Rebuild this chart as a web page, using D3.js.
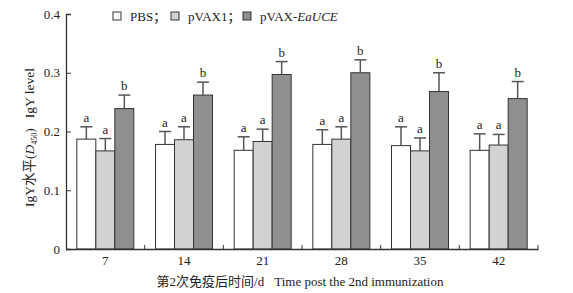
<!DOCTYPE html>
<html>
<head>
<meta charset="utf-8">
<script src="https://cdn.jsdelivr.net/npm/d3@7"></script>
<style>
  body { margin: 0; background: #fff; }
  text { font-family: "Liberation Serif", "Noto Sans CJK SC", serif; fill: #222; }
</style>
</head>
<body>
<div id="wrapper"></div>
<script>
// data
const days = ["7", "14", "21", "28", "35", "42"]
const groups = ["PBS", "pVAX1", "pVAX-EaUCE"]
const pbs = [0.187, 0.178, 0.168, 0.178, 0.176, 0.168]
const pbsErr = [0.021, 0.022, 0.023, 0.025, 0.032, 0.028]
const pvax1 = [0.167, 0.186, 0.183, 0.187, 0.167, 0.177]
const pvax1Err = [0.021, 0.022, 0.021, 0.021, 0.022, 0.018]
const euce = [0.239, 0.262, 0.297, 0.300, 0.268, 0.256]
const euceErr = [0.023, 0.022, 0.022, 0.022, 0.032, 0.029]
const letters = [["a", "a", "b"], ["a", "a", "b"], ["a", "a", "b"], ["a", "a", "b"], ["a", "a", "b"], ["a", "a", "b"]]
const yTicks = [0, 0.1, 0.2, 0.3, 0.4]

const colors = ["#ffffff", "#d2d2d2", "#8f8f91"]

async function drawBarChart(){
    const values = [pbs, pvax1, euce]
    const errs = [pbsErr, pvax1Err, euceErr]

    const dataset = days.map((day, i) => ({
        day,
        bars: groups.map((g, j) => ({ g, j, v: values[j][i], e: errs[j][i], letter: letters[i][j] }))
    }))

    let dimensions = {
        width: 573,
        height: 293,
        margin: { top: 14, right: 35, bottom: 44, left: 66 },
    }
    dimensions.boundedWidth = dimensions.width - dimensions.margin.left - dimensions.margin.right
    dimensions.boundedHeight = dimensions.height - dimensions.margin.top - dimensions.margin.bottom

    const wrapper = d3.select("#wrapper").append("svg")
        .attr("width", dimensions.width)
        .attr("height", dimensions.height)

    const bounds = wrapper.append("g")
        .attr("transform", `translate(${dimensions.margin.left},${dimensions.margin.top})`)

    //scales
    const yScale = d3.scaleLinear()
        .domain([0, 0.4])
        .range([dimensions.boundedHeight, 0])

    const xScale = d3.scaleBand()
        .domain(days)
        .range([0, dimensions.boundedWidth])

    const x1Scale = d3.scaleBand()
        .domain(groups)
        .range([0, xScale.bandwidth()])
        .paddingOuter(0.57)

    //bars
    const groupG = bounds.selectAll(".grp")
        .data(dataset)
        .join("g")
        .attr("class", "grp")
        .attr("transform", d => `translate(${xScale(d.day)},0)`)

    groupG.selectAll("rect")
        .data(d => d.bars)
        .join("rect")
        .attr("x", d => x1Scale(d.g))
        .attr("width", x1Scale.bandwidth())
        .attr("y", d => yScale(d.v))
        .attr("height", d => yScale(0) - yScale(d.v))
        .attr("fill", d => colors[d.j])
        .attr("stroke", "#333")
        .attr("stroke-width", 1)

    //error bars
    const errG = groupG.selectAll(".err")
        .data(d => d.bars)
        .join("g")
        .attr("class", "err")
        .attr("transform", d => `translate(${x1Scale(d.g) + x1Scale.bandwidth() / 2},0)`)

    errG.append("line")
        .attr("y1", d => yScale(d.v))
        .attr("y2", d => yScale(d.v + d.e))
        .attr("stroke", "#555")
        .attr("stroke-width", 1.5)
    errG.append("line")
        .attr("x1", -6).attr("x2", 6)
        .attr("y1", d => yScale(d.v + d.e))
        .attr("y2", d => yScale(d.v + d.e))
        .attr("stroke", "#555")
        .attr("stroke-width", 1.5)
    errG.append("text")
        .attr("y", d => yScale(d.v + d.e) - 5)
        .attr("text-anchor", "middle")
        .style("font-size", "13px")
        .text(d => d.letter)

    //y axis
    const yAxisGenerator = d3.axisLeft(yScale)
        .tickValues(yTicks)
        .tickSize(-5)
        .tickPadding(6)
        .tickFormat(d => d === 0 ? "0" : d3.format(".1f")(d))
    const yAxis = bounds.append("g").call(yAxisGenerator)
    yAxis.select(".domain").attr("stroke", "#333").attr("stroke-width", 1.3)
    yAxis.selectAll(".tick line").attr("stroke", "#333")
    yAxis.selectAll(".tick text").style("font-size", "13px").attr("fill", "#222").attr("font-family", "Liberation Serif")

    //x axis: labels at band centres, small inward ticks at band edges
    const xAxisGenerator = d3.axisBottom(xScale).tickSize(0).tickPadding(7)
    const xAxis = bounds.append("g")
        .attr("transform", `translate(0,${dimensions.boundedHeight})`)
        .call(xAxisGenerator)
    xAxis.select(".domain").attr("stroke", "#333").attr("stroke-width", 1.3)
    xAxis.selectAll(".tick text").style("font-size", "13px").attr("fill", "#222").attr("font-family", "Liberation Serif")

    bounds.append("g").selectAll("line")
        .data(days)
        .join("line")
        .attr("x1", d => xScale(d) + xScale.bandwidth())
        .attr("x2", d => xScale(d) + xScale.bandwidth())
        .attr("y1", dimensions.boundedHeight)
        .attr("y2", dimensions.boundedHeight - 4)
        .attr("stroke", "#333")

    //axis titles
    const xTitle = wrapper.append("text")
        .attr("x", 300)
        .attr("y", 286)
        .attr("text-anchor", "middle")
        .style("font-size", "13px")
    xTitle.append("tspan").text("第2次免疫后时间/d")
    xTitle.append("tspan").attr("dx", 10).text("Time post the 2nd immunization")

    const yTitle = wrapper.append("text")
        .attr("transform", `translate(34,${dimensions.margin.top + dimensions.boundedHeight / 2 + 6}) rotate(-90)`)
        .attr("text-anchor", "middle")
        .style("font-size", "13.5px")
    yTitle.append("tspan").text("IgY水平(")
    yTitle.append("tspan").style("font-style", "italic").text("D")
    yTitle.append("tspan").attr("dy", 3).style("font-size", "8px").text("450")
    yTitle.append("tspan").attr("dy", -3).text(")")
    yTitle.append("tspan").attr("dx", 10).text("IgY level")

    //legend
    const legendOffsets = [0, 58, 130]
    const legend = wrapper.append("g").attr("transform", "translate(113,12)")
    groups.forEach((g, j) => {
        const item = legend.append("g").attr("transform", `translate(${legendOffsets[j]},0)`)
        item.append("rect")
            .attr("width", 8).attr("height", 8)
            .attr("fill", colors[j]).attr("stroke", "#333")
        const t = item.append("text").attr("x", 17).attr("y", 9).style("font-size", "13px")
        if (g === "pVAX-EaUCE") {
            t.append("tspan").text("pVAX-")
            t.append("tspan").style("font-style", "italic").text("EaUCE")
        } else {
            t.append("tspan").text(g + "；")
        }
    })
}

drawBarChart()
</script>
</body>
</html>
